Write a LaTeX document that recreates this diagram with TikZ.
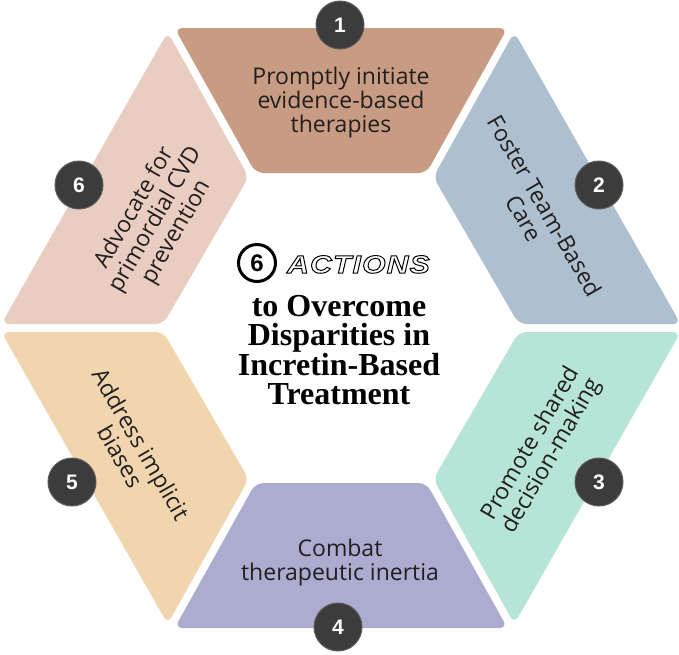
\documentclass[tikz,border=0pt]{standalone}
\usepackage{fontspec}
\setmainfont{Open Sans}
\newfontfamily\titlefont{Liberation Serif}
\newfontfamily\sansfont{Liberation Sans}
\newfontfamily\actfont[FakeStretch=1.2,LetterSpace=5]{Liberation Sans}
\usetikzlibrary{calc}
\definecolor{cA}{HTML}{C89C83}
\definecolor{cB}{HTML}{AEC0D0}
\definecolor{cC}{HTML}{B6E4D7}
\definecolor{cD}{HTML}{ACACD0}
\definecolor{cE}{HTML}{F0D5AF}
\definecolor{cF}{HTML}{EACDC1}
\definecolor{badgefill}{HTML}{3C3C3C}
\definecolor{badgeedge}{HTML}{5C5C5C}
\definecolor{txt}{HTML}{231E1E}
\tikzset{
  lbl/.style={font=\fontsize{23}{24}\selectfont, text=txt, align=center, inner sep=0pt},
  badge/.style={circle, fill=badgefill, draw=badgeedge, line width=1pt, minimum size=48pt, inner sep=0pt, text=white, font=\sansfont\bfseries\fontsize{21}{21}\selectfont},
  segment/.style={rounded corners=8pt}
}
\begin{document}
\begin{tikzpicture}[x=1pt,y=-1pt]
\useasboundingbox (0,0) rectangle (679,654);
\fill[white] (0,0) rectangle (679,654);
% hexagon vertices
\coordinate (O0) at (683,328);
\coordinate (O1) at (512,28);
\coordinate (O2) at (170,28);
\coordinate (O3) at (-1,328);
\coordinate (O4) at (170,628);
\coordinate (O5) at (512,628);
\coordinate (I0) at (521,328);
\coordinate (I1) at (431,173);
\coordinate (I2) at (251,173);
\coordinate (I3) at (161,328);
\coordinate (I4) at (251,483);
\coordinate (I5) at (431,483);
\foreach \i in {0,...,5} {
  \coordinate (Ai\i) at ($(I\i)!4pt!90:(O\i)$);
  \coordinate (Ao\i) at ($(O\i)!4pt!-90:(I\i)$);
  \coordinate (Bi\i) at ($(I\i)!4pt!-90:(O\i)$);
  \coordinate (Bo\i) at ($(O\i)!4pt!90:(I\i)$);
}
\foreach \i/\j/\c in {0/1/cB,1/2/cA,2/3/cF,3/4/cE,4/5/cD,5/0/cC} {
  \coordinate (p1) at (intersection cs: first line={(Ai\i)--(Ao\i)}, second line={(O\i)--(O\j)});
  \coordinate (p2) at (intersection cs: first line={(Bi\j)--(Bo\j)}, second line={(O\i)--(O\j)});
  \coordinate (p3) at (intersection cs: first line={(Bi\j)--(Bo\j)}, second line={(I\i)--(I\j)});
  \coordinate (p4) at (intersection cs: first line={(Ai\i)--(Ao\i)}, second line={(I\i)--(I\j)});
  \fill[\c, segment] (p1) -- (p2) -- (p3) -- (p4) -- cycle;
}
% segment texts
\node[lbl] (t1) at (341,103) {Promptly initiate\\evidence-based\\therapies};
\node[lbl, rotate=-60] (t2) at (535,212) {Foster Team-Based\\Care};
\node[lbl, rotate=60] (t3) at (542,450) {Promote shared\\decision-making};
\node[lbl] (t4) at (340,563) {Combat\\therapeutic inertia};
\node[lbl, rotate=-60] (t5) at (131,450) {Address implicit\\biases};
\node[lbl, rotate=60] (t6) at (156,220) {Advocate for\\primordial CVD\\prevention};
% badges
\node[badge] (b1) at (340,25) {1};
\node[badge] (b2) at (599,185) {2};
\node[badge] (b3) at (599,482) {3};
\node[badge] (b4) at (338,627) {4};
\node[badge] (b5) at (72,482) {5};
\node[badge] (b6) at (79,185) {6};
% center title
\node[circle, draw=black, line width=3pt, minimum size=37pt, inner sep=0pt,
      font=\sansfont\bfseries\fontsize{24}{24}\selectfont] (six) at (257,263) {6};
\node[anchor=base west, inner sep=0pt, font=\actfont\bfseries\itshape\fontsize{25}{25}\selectfont]
  (act) at (287,273) {\special{pdf:literal direct 1 Tr 1 w}ACTIONS\special{pdf:literal direct 0 Tr}};
\node[font=\titlefont\bfseries\fontsize{32}{29.5}\selectfont, align=center, inner sep=0pt, text=black]
  (title) at (339,350) {to Overcome\\Disparities in\\Incretin-Based\\Treatment};
\end{tikzpicture}
\end{document}
